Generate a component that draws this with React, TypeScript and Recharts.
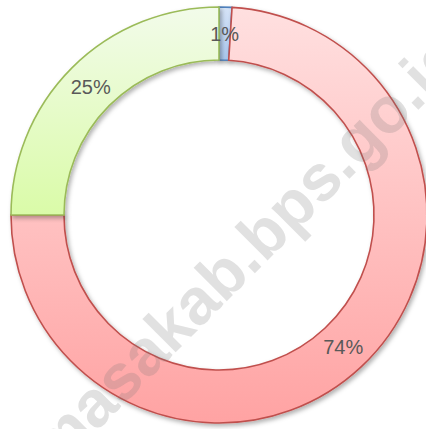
import React from "react";
import { PieChart, Pie, Cell } from "recharts";

const categories = ["A", "B", "C"];
const values = [1, 74, 25];
const labels = ["1%", "74%", "25%"];
const fills = ["url(#gBlue)", "url(#gRed)", "url(#gGreen)"];
const strokes = ["#4F81BD", "#C0504D", "#9BBB59"];

const data = categories.map((c, i) => ({ name: c, value: values[i], label: labels[i] }));

const RAD = Math.PI / 180;

const renderLabel = (props: any) => {
  const { cx, cy, midAngle, innerRadius, outerRadius, index } = props;
  const r = (innerRadius + outerRadius) / 2;
  const x = cx + r * Math.cos(-midAngle * RAD);
  const y = cy + r * Math.sin(-midAngle * RAD);
  return (
    <text
      x={x}
      y={y}
      fill="#595959"
      fontSize={20}
      fontFamily="'Liberation Sans', Arial, sans-serif"
      textAnchor="middle"
      dominantBaseline="central"
    >
      {labels[index]}
    </text>
  );
};

export default function App() {
  return (
    <div style={{ position: "absolute", left: 0, top: 0, width: 426, height: 429, background: "#fff", overflow: "hidden" }}>
      <svg width={0} height={0} style={{ position: "absolute" }}>
        <defs>
          <linearGradient id="gRed" x1="0" y1="0" x2="0" y2="1">
            <stop offset="0%" stopColor="#FFE0E0" />
            <stop offset="100%" stopColor="#FFA3A3" />
          </linearGradient>
          <linearGradient id="gGreen" x1="0" y1="0" x2="0" y2="1">
            <stop offset="0%" stopColor="#F2FBEA" />
            <stop offset="100%" stopColor="#DAFBA8" />
          </linearGradient>
          <linearGradient id="gBlue" x1="0" y1="0" x2="0" y2="1">
            <stop offset="0%" stopColor="#D6E4F7" />
            <stop offset="100%" stopColor="#A9C6EE" />
          </linearGradient>
          <filter id="shadow" x="-10%" y="-10%" width="130%" height="130%">
            <feDropShadow dx="2" dy="2.5" stdDeviation="2" floodColor="#000" floodOpacity="0.3" />
          </filter>
        </defs>
      </svg>
      <PieChart width={426} height={429} margin={{ top: 0, right: 0, bottom: 0, left: 0 }}>
        <Pie
          data={data}
          dataKey="value"
          nameKey="name"
          cx={219}
          cy={215}
          innerRadius={155}
          outerRadius={208}
          startAngle={90}
          endAngle={-270}
          paddingAngle={0}
          isAnimationActive={false}
          labelLine={false}
          label={renderLabel}
          style={{ filter: "url(#shadow)" }}
        >
          {data.map((d, i) => (
            <Cell key={d.name} fill={fills[i]} stroke={strokes[i]} strokeWidth={1.6} />
          ))}
        </Pie>
      </PieChart>
      <svg width={426} height={429} style={{ position: "absolute", left: 0, top: 0, pointerEvents: "none" }}>
        <text
          transform="translate(55,473) rotate(-45)"
          textAnchor="start"
          fontFamily="'Liberation Sans', Arial, sans-serif"
          fontWeight="bold"
          fontSize={65}
          fill="rgba(120,120,120,0.22)"
        >
          masakab.bps.go.id
        </text>
      </svg>
    </div>
  );
}
